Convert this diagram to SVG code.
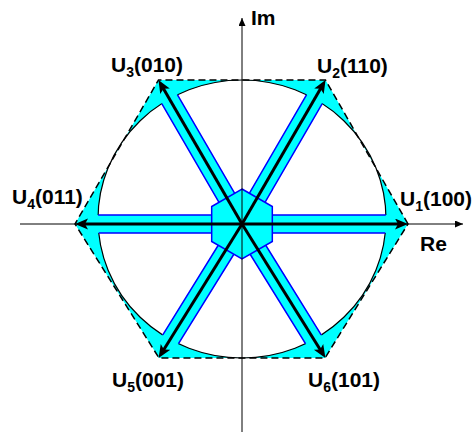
<svg xmlns="http://www.w3.org/2000/svg" xmlns:xlink="http://www.w3.org/1999/xlink" width="475" height="434" viewBox="0 0 475 434">
<style>
.lbl{font-family:"Liberation Sans",Arial,Helvetica,sans-serif;font-weight:bold;font-size:21px;fill:#000}
.sub{font-size:14px}
.axis{stroke:#000;stroke-width:1;fill:none}
.vec{stroke:#000;stroke-width:3;fill:none}
.barfill{fill:#00ffff}
.baredge{stroke:#0000ff;stroke-width:1.5;fill:none}
</style>
<defs>
<marker id="ah" markerUnits="userSpaceOnUse" markerWidth="14" markerHeight="12" refX="5" refY="5.5" orient="auto">
<path d="M0,0 L13,5.5 L0,11 L3,5.5 z" fill="#000"/>
</marker>
<marker id="ax" markerUnits="userSpaceOnUse" markerWidth="9" markerHeight="8" refX="8" refY="3.5" orient="auto">
<path d="M0,0 L8,3.5 L0,7 z" fill="#000"/>
</marker>
<rect id="barR" class="barfill" x="0" y="-9" width="148" height="18"/>
<path id="barE" class="baredge" d="M0,-9 H160 M0,9 H160"/>
<clipPath id="inEllipse" clipPathUnits="userSpaceOnUse">
<ellipse cx="242" cy="219" rx="144" ry="139"/>
</clipPath>
</defs>
<g id="background">
<path id="corners" d="M408,224 L325.5,80 L158.5,80 L75,224 L159,358 L325,358 Z M98,219 A144,139 0 1 0 386,219 A144,139 0 1 0 98,219 Z" fill="#00ffff" fill-rule="evenodd"/>
<ellipse id="circle" cx="242" cy="219" rx="144" ry="139" fill="none" stroke="#000" stroke-width="1.2"/>
<g id="bars">
<use xlink:href="#barR" transform="translate(242,224)"/>
<use xlink:href="#barR" transform="translate(242,224) rotate(-59.89)"/>
<use xlink:href="#barR" transform="translate(242,224) rotate(-120.11)"/>
<use xlink:href="#barR" transform="translate(242,224) rotate(180)"/>
<use xlink:href="#barR" transform="translate(242,224) rotate(121.77)"/>
<use xlink:href="#barR" transform="translate(242,224) rotate(58.23)"/>
<g clip-path="url(#inEllipse)">
<use xlink:href="#barE" transform="translate(242,224)"/>
<use xlink:href="#barE" transform="translate(242,224) rotate(-59.89)"/>
<use xlink:href="#barE" transform="translate(242,224) rotate(-120.11)"/>
<use xlink:href="#barE" transform="translate(242,224) rotate(180)"/>
<use xlink:href="#barE" transform="translate(242,224) rotate(121.77)"/>
<use xlink:href="#barE" transform="translate(242,224) rotate(58.23)"/>
</g>
</g>
<path id="hexagon" d="M408,224 L325.5,80 L158.5,80 L75,224 L159,358 L325,358 Z" fill="none" stroke="#000" stroke-width="1.5" stroke-dasharray="7 4"/>
<path id="center-hex" d="M242,189 L272.31,206.5 L272.31,241.5 L242,259 L211.69,241.5 L211.69,206.5 Z" fill="#00ffff" stroke="#0000ff" stroke-width="1.5"/>
</g>
<g id="connectors">
<line class="axis" x1="20" y1="224" x2="463" y2="224" marker-end="url(#ax)"/>
<line class="axis" x1="242" y1="432" x2="242" y2="18" marker-end="url(#ax)"/>
<line class="vec" x1="242" y1="224" x2="400" y2="224" marker-end="url(#ah)"/>
<line class="vec" x1="242" y1="224" x2="321.5" y2="86.9" marker-end="url(#ah)"/>
<line class="vec" x1="242" y1="224" x2="162.5" y2="86.9" marker-end="url(#ah)"/>
<line class="vec" x1="242" y1="224" x2="83" y2="224" marker-end="url(#ah)"/>
<line class="vec" x1="242" y1="224" x2="162.8" y2="351.2" marker-end="url(#ah)"/>
<line class="vec" x1="242" y1="224" x2="321.2" y2="351.2" marker-end="url(#ah)"/>
</g>
<g id="U1"><text class="lbl" x="400" y="206">U<tspan class="sub" dy="5">1</tspan><tspan dy="-5">(100)</tspan></text></g>
<g id="U2"><text class="lbl" x="317" y="73">U<tspan class="sub" dy="5">2</tspan><tspan dy="-5">(110)</tspan></text></g>
<g id="U3"><text class="lbl" x="111" y="72">U<tspan class="sub" dy="5">3</tspan><tspan dy="-5">(010)</tspan></text></g>
<g id="U4"><text class="lbl" x="12" y="204">U<tspan class="sub" dy="5">4</tspan><tspan dy="-5">(011)</tspan></text></g>
<g id="U5"><text class="lbl" x="112" y="387">U<tspan class="sub" dy="5">5</tspan><tspan dy="-5">(001)</tspan></text></g>
<g id="U6"><text class="lbl" x="308" y="387">U<tspan class="sub" dy="5">6</tspan><tspan dy="-5">(101)</tspan></text></g>
<g id="Im"><text class="lbl" x="251" y="25">Im</text></g>
<g id="Re"><text class="lbl" x="420" y="251">Re</text></g>
</svg>
